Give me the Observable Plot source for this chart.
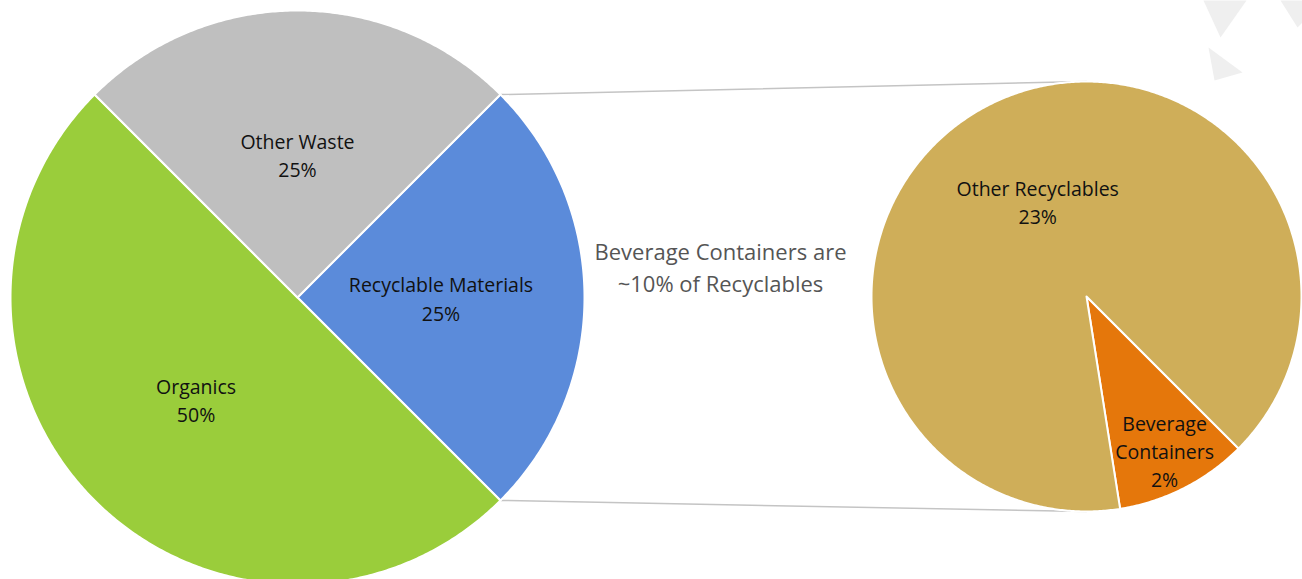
<!DOCTYPE html>
<html>
<head>
<meta charset="utf-8">
<script src="https://cdn.jsdelivr.net/npm/d3@7"></script>
<script src="https://cdn.jsdelivr.net/npm/@observablehq/plot@0.6"></script>
<style>
  html, body { margin: 0; padding: 0; background: #fff; }
  #chart svg { display: block; }
</style>
</head>
<body>
<div id="chart"></div>
<script>
// ---- data ----
const mainCategories = ["Recyclable Materials", "Organics", "Other Waste"];
const mainValues = [25, 50, 25];
const mainValueLabels = ["25%", "50%", "25%"];
const mainColors = ["#5B8BDA", "#9ACD3B", "#BFBFBF"];

const subCategories = ["Beverage Containers", "Other Recyclables"];
const subValues = [2.5, 22.5];          // slice sizes (share of total waste)
const subValueLabels = ["2%", "23%"];   // labels as printed on the chart
const subColors = ["#E5770B", "#CFAE59"];

const noteLines = ["Beverage Containers are", "~10% of Recyclables"];

// decorative watermark triangles (top-right corner)
const decor = [
  [[1203, 0], [1246, 0], [1220, 37]],
  [[1208, 47], [1242, 72], [1214, 80]],
  [[1280, 0], [1302, 0], [1302, 22], [1297, 27]]
];

// ---- layout ----
const W = 1302, H = 579;
const main = {cx: 297, cy: 297, r: 287, start: Math.PI / 4};
const sub = {cx: 1086, cy: 296, r: 215, start: 3 * Math.PI / 4};

function pt(p, a, rr) {
  return [p.cx + rr * Math.sin(a), p.cy - rr * Math.cos(a)];
}

function buildPie(p, cats, vals, valLabels, cols, wrap) {
  const arcs = d3.pie().sort(null).value(d => d).startAngle(p.start).endAngle(p.start + 2 * Math.PI)(vals);
  const polys = [], labels = [];
  arcs.forEach((a, i) => {
    const steps = Math.max(4, Math.ceil((a.endAngle - a.startAngle) / (Math.PI / 360)));
    polys.push({slice: cats[i], x: p.cx, y: p.cy, color: cols[i]});
    for (let k = 0; k <= steps; k++) {
      const ang = a.startAngle + (a.endAngle - a.startAngle) * k / steps;
      const [x, y] = pt(p, ang, p.r);
      polys.push({slice: cats[i], x, y, color: cols[i]});
    }
    const span = a.endAngle - a.startAngle;
    const mid = (a.startAngle + a.endAngle) / 2;
    const small = span < 0.75;
    const [lx, ly] = pt(p, mid, p.r * (small ? 0.8 : 0.5));
    const name = wrap && small ? cats[i].replace(" ", "\n") : cats[i];
    labels.push({x: lx, y: ly, text: name + "\n" + valLabels[i]});
  });
  return {arcs, polys, labels};
}

const mainPie = buildPie(main, mainCategories, mainValues, mainValueLabels, mainColors, false);
const subPie = buildPie(sub, subCategories, subValues, subValueLabels, subColors, true);

// connector lines: from the recyclable slice edges of main pie to top/bottom of sub pie
const rec = mainPie.arcs[0];
const connectors = [
  {id: "top", pts: [pt(main, rec.startAngle, main.r), [sub.cx, sub.cy - sub.r]]},
  {id: "bottom", pts: [pt(main, rec.endAngle, main.r), [sub.cx, sub.cy + sub.r]]}
].flatMap(c => c.pts.map(([x, y]) => ({id: c.id, x, y})));

const decorPts = decor.flatMap((tri, i) => tri.map(([x, y]) => ({id: i, x, y})));

const font = "'Open Sans', 'Noto Sans', sans-serif";

const chart = Plot.plot({
  width: W,
  height: H,
  margin: 0,
  x: {domain: [0, W], range: [0, W], axis: null},
  y: {domain: [0, H], range: [0, H], axis: null},
  color: {type: "identity"},
  style: {background: "#fff", fontFamily: font},
  marks: [
    Plot.line(decorPts, {x: "x", y: "y", z: "id", fill: "#EFEFEF", stroke: "none", curve: "linear-closed"}),
    Plot.line(connectors, {x: "x", y: "y", z: "id", stroke: "#C4C4C4", strokeWidth: 1.5}),
    Plot.line(mainPie.polys, {x: "x", y: "y", z: "slice", fill: "color", stroke: "#fff", strokeWidth: 2, curve: "linear-closed"}),
    Plot.line(subPie.polys, {x: "x", y: "y", z: "slice", fill: "color", stroke: "#fff", strokeWidth: 2, curve: "linear-closed"}),
    Plot.text(mainPie.labels, {x: "x", y: "y", text: "text", fontSize: 19.5, fontWeight: 500, fill: "#111", lineHeight: 1.44, fontFamily: font}),
    Plot.text(subPie.labels, {x: "x", y: "y", text: "text", fontSize: 19.5, fontWeight: 500, fill: "#111", lineHeight: 1.44, fontFamily: font}),
    Plot.text([noteLines.join("\n")], {x: [720], y: [265], text: d => d, fontSize: 22, fill: "#555", lineHeight: 1.45, fontFamily: font})
  ]
});

document.getElementById("chart").appendChild(chart);
</script>
</body>
</html>
